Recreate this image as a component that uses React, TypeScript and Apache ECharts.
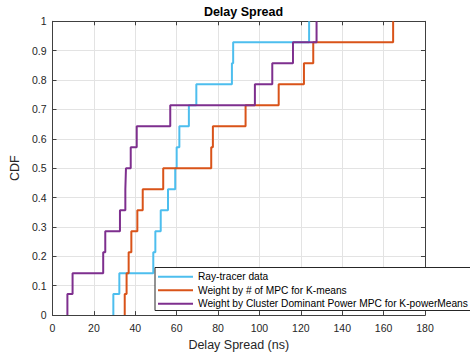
import React, { useEffect, useRef } from "react";
import * as echarts from "echarts";

const seriesNames = [
  "Ray-tracer data",
  "Weight by # of MPC for K-means",
  "Weight by Cluster Dominant Power MPC for K-powerMeans",
];
const rayTracer = [29.4, 32.3, 48.7, 49.7, 52.3, 55.8, 59.3, 60, 61.3, 65.9, 69.5, 86.7, 87.3, 124];
const kMeans = [34.9, 35.8, 36.8, 38.1, 41, 43.6, 53.5, 76.7, 77.5, 93.3, 109.3, 121.5, 126, 164.6];
const kPowerMeans = [7.2, 9.7, 24.5, 25.5, 32.6, 35.2, 35.5, 37.8, 40.7, 56.9, 97.8, 106.2, 116.2, 127.6];
const colors = ["#4DBEEE", "#D95319", "#7E2F8E"];

function cdfPoints(vals: number[]): number[][] {
  const s = [...vals].sort((a, b) => a - b);
  const n = s.length;
  const pts: number[][] = [];
  s.forEach((v, i) => {
    pts.push([v, i / n]);
    pts.push([v, (i + 1) / n]);
  });
  return pts;
}

const FONT = "'Liberation Sans', Arial, Helvetica, sans-serif";

export default function App() {
  const ref = useRef<HTMLDivElement>(null);
  useEffect(() => {
    if (!ref.current) return;
    const chart = echarts.init(ref.current, undefined, { renderer: "svg" });
    const axisColor = "#404040";
    const gridColor = "#e3e3e3";
    const data = [rayTracer, kMeans, kPowerMeans];
    chart.setOption({
      animation: false,
      backgroundColor: "#ffffff",
      textStyle: { fontFamily: FONT },
      title: {
        text: "Delay Spread",
        left: 238.5,
        textAlign: "center",
        top: 0,
        textStyle: { fontSize: 12.5, fontWeight: "bold", color: "#000", fontFamily: FONT },
      },
      grid: { left: 52.5, right: 45, top: 21.3, bottom: 40.3, containLabel: false },
      legend: {
        orient: "vertical",
        left: 155,
        top: 267.5,
        padding: [2.5, 20, 0, 3],
        icon: "rect",
        itemWidth: 35,
        itemHeight: 2,
        itemGap: 0,
        backgroundColor: "#ffffff",
        borderColor: "#262626",
        borderWidth: 1,
        borderRadius: 0,
        textStyle: { fontSize: 10.2, lineHeight: 13.5, color: "#000", fontFamily: FONT },
        data: seriesNames,
      },
      xAxis: [
        {
          type: "value",
          min: 0,
          max: 180,
          interval: 20,
          name: "Delay Spread (ns)",
          nameLocation: "middle",
          nameGap: 20.5,
          nameTextStyle: { fontSize: 12.5, color: "#262626", fontFamily: FONT },
          axisLine: { onZero: false, lineStyle: { color: axisColor } },
          axisTick: { inside: true, length: 4, lineStyle: { color: axisColor } },
          axisLabel: { fontSize: 10.5, color: "#262626", margin: 7, fontFamily: FONT },
          splitLine: { show: true, lineStyle: { color: gridColor } },
        },
        {
          type: "value",
          position: "top",
          min: 0,
          max: 180,
          interval: 20,
          axisLine: { onZero: false, lineStyle: { color: axisColor } },
          axisTick: { inside: true, length: 4, lineStyle: { color: axisColor } },
          axisLabel: { show: false },
          splitLine: { show: false },
        },
      ],
      yAxis: [
        {
          type: "value",
          min: 0,
          max: 1,
          interval: 0.1,
          name: "CDF",
          nameLocation: "middle",
          nameGap: 17,
          nameTextStyle: { fontSize: 12.5, color: "#262626", fontFamily: FONT },
          axisLine: { show: true, onZero: false, lineStyle: { color: axisColor } },
          axisTick: { show: true, inside: true, length: 4, lineStyle: { color: axisColor } },
          axisLabel: { fontSize: 10.5, color: "#262626", margin: 6, fontFamily: FONT },
          splitLine: { show: true, lineStyle: { color: gridColor } },
        },
        {
          type: "value",
          position: "right",
          min: 0,
          max: 1,
          interval: 0.1,
          axisLine: { show: true, onZero: false, lineStyle: { color: axisColor } },
          axisTick: { show: true, inside: true, length: 4, lineStyle: { color: axisColor } },
          axisLabel: { show: false },
          splitLine: { show: false },
        },
      ],
      series: data.map((d, i) => ({
        name: seriesNames[i],
        type: "line",
        xAxisIndex: 0,
        yAxisIndex: 0,
        data: cdfPoints(d),
        symbol: "none",
        color: colors[i],
        lineStyle: { color: colors[i], width: 2 },
        z: 2 + i,
      })),
    });
    return () => chart.dispose();
  }, []);
  return (
    <div
      ref={ref}
      style={{ position: "fixed", left: 0, top: 0, width: 470, height: 356 }}
    />
  );
}
